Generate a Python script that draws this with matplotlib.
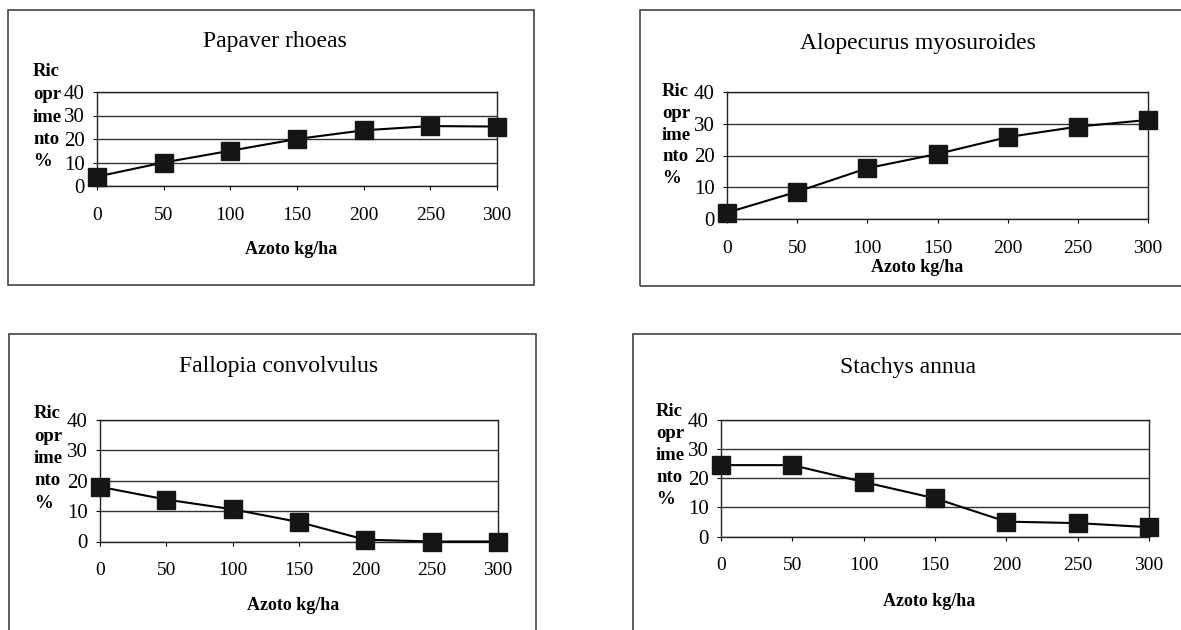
import matplotlib.pyplot as plt
from matplotlib.patches import Rectangle

plt.rcParams['font.family'] = ['Liberation Serif', 'DejaVu Serif']

# data
azoto = [0, 50, 100, 150, 200, 250, 300]
papaver = [4, 10, 15, 20, 23.7, 25.5, 25.3]
alopecurus = [2, 8.6, 16, 20.5, 25.8, 29.1, 31.2]
fallopia = [18, 13.8, 10.6, 6.4, 0.6, 0, 0]
stachys = [24.5, 24.5, 18.7, 13.1, 5.1, 4.6, 3.2]

titles = ["Papaver rhoeas", "Alopecurus myosuroides",
          "Fallopia convolvulus", "Stachys annua"]
series = [papaver, alopecurus, fallopia, stachys]
y_ticks = [0, 10, 20, 30, 40]
ylab_lines = ["Ric", "opr", "ime", "nto", "%"]
xlabel = "Azoto kg/ha"

W, H = 1181, 630
fig = plt.figure(figsize=(W / 100, H / 100), dpi=100)


def fx(px):
    return px / W


def fy(py):
    return 1 - py / H


# pixel layout of each panel (top-left origin)
layout = [
    dict(frame=(8, 10, 534, 285), axes=(97, 92, 497, 186), title=(275, 42),
         ylab=(33, 72, 22.5), xlab=(291, 250)),
    dict(frame=(640, 10, 1200, 286), axes=(727, 92, 1148, 219), title=(918, 43),
         ylab=(662, 92, 21.6), xlab=(917, 268)),
    dict(frame=(9, 334, 536, 660), axes=(100, 420, 498, 541.5), title=(279, 366),
         ylab=(34, 414, 22.3), xlab=(293, 606)),
    dict(frame=(633, 334, 1200, 660), axes=(721, 420, 1149, 536.5), title=(908, 367),
         ylab=(656, 412, 22), xlab=(929, 601)),
]

for lay, title, vals in zip(layout, titles, series):
    x0, y0, x1, y1 = lay['frame']
    fig.patches.append(Rectangle((fx(x0), fy(y1)), fx(x1) - fx(x0), fy(y0) - fy(y1),
                                 transform=fig.transFigure, fill=False,
                                 edgecolor='#444444', linewidth=1.2))

    l, t, r, b = lay['axes']
    ax = fig.add_axes([fx(l), fy(b), fx(r) - fx(l), fy(t) - fy(b)])
    ax.plot(azoto, vals, color='black', linewidth=1.5, marker='s',
            markersize=13, markerfacecolor='#151515', markeredgecolor='#151515',
            clip_on=False, zorder=3)
    ax.set_xlim(0, 300)
    ax.set_ylim(0, 40)
    ax.set_xticks(azoto)
    ax.set_yticks(y_ticks)
    ax.yaxis.grid(True, color='#333333', linewidth=1)
    ax.set_axisbelow(True)
    for s in ax.spines.values():
        s.set_color('#222222')
        s.set_linewidth(1)
    ax.tick_params(axis='x', direction='out', length=3, pad=12, labelsize=14)
    ax.tick_params(axis='y', direction='out', length=3, pad=6, labelsize=15)

    fig.text(fx(lay['title'][0]), fy(lay['title'][1]), title,
             ha='center', va='center', fontsize=17)
    lx, ly, step = lay['ylab']
    for i, word in enumerate(ylab_lines):
        fig.text(fx(lx), fy(ly + i * step), word, ha='left', va='center',
                 fontsize=13.5, fontweight='bold')
    fig.text(fx(lay['xlab'][0]), fy(lay['xlab'][1]), xlabel,
             ha='center', va='center', fontsize=13, fontweight='bold')

fig.savefig('out.png', dpi=100)
